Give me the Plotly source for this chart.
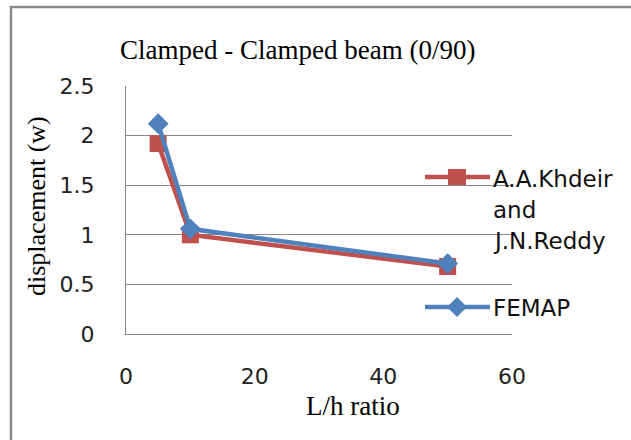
import plotly.graph_objects as go

# ---- data ----
lh_ratio = [5, 10, 50]
khdeir_reddy = [1.92, 1.00, 0.68]
femap = [2.12, 1.06, 0.71]
x_ticks = [0, 20, 40, 60]
y_ticks = [0, 0.5, 1, 1.5, 2, 2.5]
y_tick_text = ["0", "0.5", "1", "1.5", "2", "2.5"]

RED = "#C0504D"
BLUE = "#4F81BD"
GRID = "#878787"

W, H = 631, 440
L, R, T, B = 126, 512, 86, 334


def px(x):
    return (x - L) / (R - L)


def py(y):
    return (B - y) / (B - T)


fig = go.Figure()
fig.add_trace(go.Scatter(
    x=lh_ratio, y=khdeir_reddy, mode="lines+markers", name="A.A.Khdeir and J.N.Reddy",
    line=dict(color=RED, width=4.5),
    marker=dict(symbol="square", size=17, color=RED),
    showlegend=False, cliponaxis=False))
fig.add_trace(go.Scatter(
    x=lh_ratio, y=femap, mode="lines+markers", name="FEMAP",
    line=dict(color=BLUE, width=4.5),
    marker=dict(symbol="diamond", size=16, color=BLUE),
    showlegend=False, cliponaxis=False))

shapes = []
# outer chart frame (cropped on right/bottom)
shapes.append(dict(type="rect", xref="paper", yref="paper",
                   x0=px(11), x1=px(700), y0=py(520), y1=py(7),
                   line=dict(color="#8a8a8a", width=2.5), layer="below"))
# legend: Khdeir
ly1 = 177
shapes.append(dict(type="line", xref="paper", yref="paper",
                   x0=px(425), x1=px(490), y0=py(ly1), y1=py(ly1),
                   line=dict(color=RED, width=4.5)))
shapes.append(dict(type="rect", xref="paper", yref="paper",
                   x0=px(457 - 9), x1=px(457 + 9), y0=py(ly1 + 8), y1=py(ly1 - 8),
                   fillcolor=RED, line=dict(width=0)))
# legend: FEMAP
ly2 = 307
shapes.append(dict(type="line", xref="paper", yref="paper",
                   x0=px(425), x1=px(490), y0=py(ly2), y1=py(ly2),
                   line=dict(color=BLUE, width=4.5)))
shapes.append(dict(type="path", xref="paper", yref="paper",
                   path="M {a},{b} L {c},{d} L {e},{f} L {g},{h} Z".format(
                       a=px(457 - 10), b=py(ly2),
                       c=px(457), d=py(ly2 - 10),
                       e=px(457 + 10), f=py(ly2),
                       g=px(457), h=py(ly2 + 10)),
                   fillcolor=BLUE, line=dict(width=0)))

SANS = "DejaVu Sans"
SERIF = "Liberation Serif"
annotations = []
for txt, yy in [("A.A.Khdeir", 179), ("and", 210), ("J.N.Reddy", 241), ("FEMAP", 308)]:
    annotations.append(dict(text=txt, xref="paper", yref="paper", x=px(491), y=py(yy),
                            xanchor="left", yanchor="middle", showarrow=False,
                            font=dict(family=SANS, size=23, color="#111")))
annotations.append(dict(text="Clamped - Clamped beam (0/90)", xref="paper", yref="paper",
                        x=px(118), y=py(50), xanchor="left", yanchor="middle",
                        showarrow=False, font=dict(family=SERIF, size=27, color="#000")))
annotations.append(dict(text="L/h ratio", xref="paper", yref="paper",
                        x=px(353), y=py(406), xanchor="center", yanchor="middle",
                        showarrow=False, font=dict(family=SERIF, size=27, color="#000")))
annotations.append(dict(text="displacement (w)", xref="paper", yref="paper",
                        x=px(36), y=py(206), xanchor="center", yanchor="middle", textangle=-90,
                        showarrow=False, font=dict(family=SERIF, size=26, color="#000")))

fig.update_layout(
    width=W, height=H,
    margin=dict(l=L, r=W - R, t=T, b=H - B),
    paper_bgcolor="white", plot_bgcolor="white",
    shapes=shapes, annotations=annotations,
    xaxis=dict(range=[0, 60], tickvals=x_ticks, ticktext=[str(v) for v in x_ticks],
               showgrid=False, zeroline=False, showline=True, linecolor=GRID, linewidth=1,
               ticks="", ticklabelstandoff=23,
               tickfont=dict(family=SANS, size=22, color="#222")),
    yaxis=dict(range=[0, 2.5], tickvals=y_ticks, ticktext=y_tick_text,
               showgrid=True, gridcolor=GRID, gridwidth=1, zeroline=False,
               showline=True, linecolor=GRID, linewidth=1,
               ticks="", ticklabelstandoff=26,
               tickfont=dict(family=SANS, size=22, color="#222")),
)

fig.write_html("out.html")
